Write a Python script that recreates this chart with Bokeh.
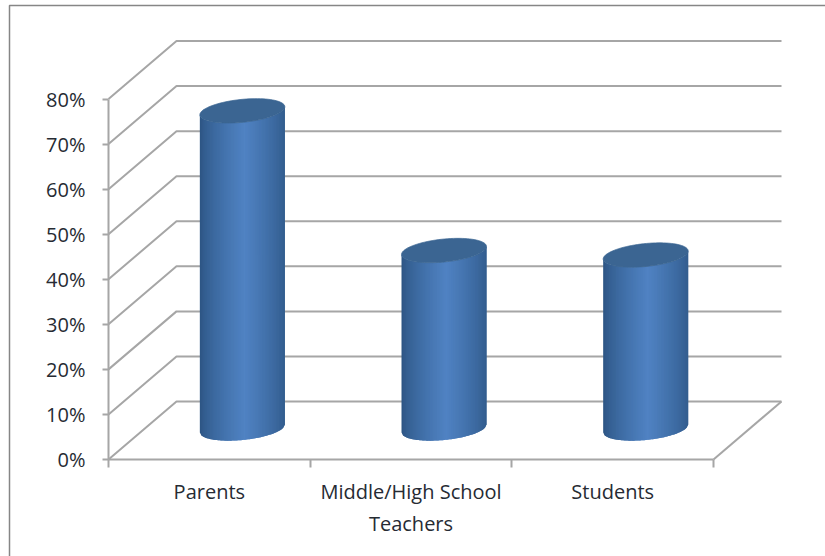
from bokeh.embed import file_html
from bokeh.models import BoxAnnotation, ColumnDataSource, FixedTicker, Range1d
from bokeh.plotting import figure
from bokeh.resources import INLINE
import numpy as np

# Survey shares per group, in percent
categories = ["Parents", "Middle/High School\nTeachers", "Students"]
values = [70.5, 39.5, 38.5]
y_ticks = [0, 10, 20, 30, 40, 50, 60, 70, 80]
y_tick_labels = ["0%", "10%", "20%", "30%", "40%", "50%", "60%", "70%", "80%"]

WIDTH, HEIGHT = 825, 556
LEFT, BOTTOM = 108, 97
PX_PER_CAT = 201.67
PX_PER_PCT = 4.506

# Oblique projection: the back of the box sits up and to the right of the front
DEPTH_X = 68 / PX_PER_CAT
DEPTH_Y = 58 / PX_PER_PCT
YMAX = 80

# Cylinder ellipse: half width, half height, and tilt from the projection
RX = 42.5 / PX_PER_CAT
RY = 11.5 / PX_PER_PCT
TILT = 4 / PX_PER_PCT
BASE = (459 - 428) / PX_PER_PCT
NUDGE = -1 / PX_PER_CAT
STRIPS = 60
GRID = "#a6a6a6"
TEXT = "#262b33"

# The frame fills the page; both axes are pinned at the zero of the other scale
p = figure(
    width=WIDTH, height=HEIGHT, output_backend="svg", toolbar_location=None,
    x_range=Range1d(-LEFT / PX_PER_CAT, (WIDTH - LEFT) / PX_PER_CAT),
    y_range=Range1d(-BOTTOM / PX_PER_PCT, (HEIGHT - BOTTOM) / PX_PER_PCT),
    min_border=0,
    outline_line_color=None, background_fill_color="white",
    border_fill_color="white",
)
p.grid.visible = False

# Chart area border
p.add_layout(BoxAnnotation(
    left=9, right=WIDTH + 10, top=5, bottom=HEIGHT + 10,
    left_units="canvas", right_units="canvas",
    top_units="canvas", bottom_units="canvas",
    fill_alpha=0, line_color="#868686", line_alpha=1, line_width=1.5,
))

# Side wall, back wall and floor edge
n_cat = len(categories)
for tick in y_ticks:
    p.line([0, DEPTH_X, n_cat + DEPTH_X], [tick, tick + DEPTH_Y, tick + DEPTH_Y],
           line_color=GRID, line_width=2)
p.line([n_cat, n_cat + DEPTH_X], [0, DEPTH_Y], line_color=GRID, line_width=2)


def shade(u):
    """Blue of the cylinder side at horizontal position u in [-1, 1]."""
    light = np.array([80, 131, 195])
    dark = np.array([44, 84, 130])
    mix = np.clip(1 - np.abs(u - 0.05) / 1.05, 0, 1) ** 0.7
    r, g, b = (dark + (light - dark) * mix).astype(int)
    return f"#{r:02x}{g:02x}{b:02x}"


def lower_arc(u, centre):
    return centre + TILT * u - RY * np.sqrt(np.clip(1 - u ** 2, 0, 1))


strip_xs, strip_ys, strip_colors = [], [], []
cap_xs, cap_ys = [], []
for i, value in enumerate(values):
    cx = i + 0.5 + DEPTH_X / 2 + NUDGE
    top = BASE + value
    edges = np.linspace(-1, 1, STRIPS + 1)
    # Each strip runs on under its right-hand neighbour so no seam shows
    for k in range(STRIPS):
        u = edges[k:k + 3]
        xs = cx + RX * u
        strip_xs.append(list(xs) + list(xs[::-1]))
        strip_ys.append(list(lower_arc(u, BASE)) + list(lower_arc(u, top)[::-1]))
        strip_colors.append(shade(edges[k] + 1 / STRIPS))
    t = np.linspace(0, 2 * np.pi, 90)
    cap_xs.append(list(cx + RX * np.cos(t)))
    cap_ys.append(list(top + RY * np.sin(t) + TILT * np.cos(t)))

p.patches("x", "y", source=ColumnDataSource(dict(x=strip_xs, y=strip_ys, c=strip_colors)),
          fill_color="c", line_color=None)
p.patches(cap_xs, cap_ys, fill_color="#3b6592", line_color="#3b6592", line_width=0.7)

# Axes
xa = p.xaxis[0]
xa.fixed_location = 0
xa.bounds = (0, n_cat)
xa.ticker = FixedTicker(ticks=[i + 0.5 for i in range(n_cat)],
                        minor_ticks=list(range(n_cat + 1)))
xa.major_label_overrides = {i + 0.5: c for i, c in enumerate(categories)}
xa.major_tick_out = 0
xa.major_tick_in = 0
xa.minor_tick_out = 8
xa.minor_tick_in = 0
xa.minor_tick_line_color = GRID
xa.minor_tick_line_width = 2
xa.axis_line_color = GRID
xa.axis_line_width = 2
xa.major_label_text_font = "Open Sans"
xa.major_label_text_font_size = "20px"
xa.major_label_text_color = TEXT
xa.major_label_standoff = 10

ya = p.yaxis[0]
ya.fixed_location = 0
ya.bounds = (0, YMAX)
ya.ticker = FixedTicker(ticks=y_ticks)
ya.major_label_overrides = dict(zip(y_ticks, y_tick_labels))
ya.major_tick_out = 6
ya.major_tick_in = 0
ya.minor_tick_out = 0
ya.minor_tick_in = 0
ya.major_tick_line_color = GRID
ya.major_tick_line_width = 2
ya.axis_line_color = GRID
ya.axis_line_width = 2
ya.major_label_text_font = "Open Sans"
ya.major_label_text_font_size = "20px"
ya.major_label_text_color = TEXT
ya.major_label_standoff = 17

open("out.html", "w").write(file_html(p, INLINE))
